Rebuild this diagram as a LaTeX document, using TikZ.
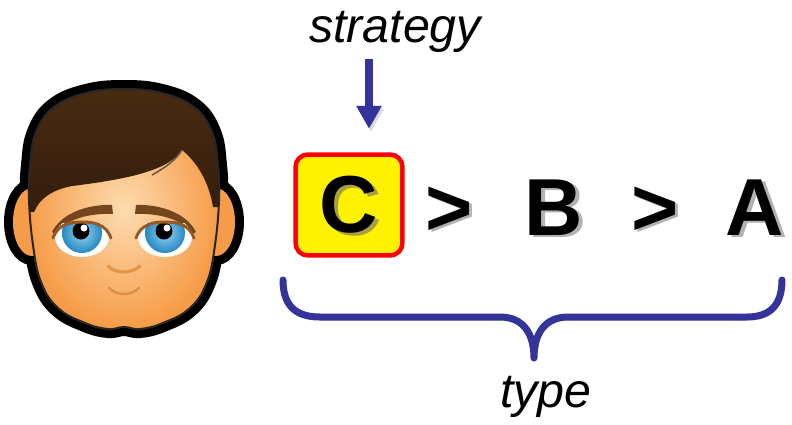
\documentclass[tikz,border=0pt]{standalone}
\usepackage{fontspec}
\setmainfont{Liberation Sans}
\usetikzlibrary{arrows.meta}
\definecolor{darkblue}{RGB}{51,51,153}
\definecolor{skin}{RGB}{246,156,72}
\definecolor{skinlight}{RGB}{253,220,176}
\definecolor{hair}{RGB}{52,29,11}
\definecolor{hairlight}{RGB}{74,43,18}
\definecolor{brow}{RGB}{116,70,30}
\definecolor{lid}{RGB}{150,88,36}
\definecolor{irisin}{RGB}{150,214,240}
\definecolor{irisout}{RGB}{38,136,196}
\colorlet{shd}{black!30}

% drop shadow behind a glyph
\newcommand{\shadowed}[1]{%
  \rlap{\smash{\kern1.9pt\raisebox{-1.5pt}{\color{shd}#1}}}#1}

\newcommand{\headshape}{plot[smooth cycle, tension=0.7] coordinates {
  (124,89) (162,93) (194,107) (212,132) (218,165) (219,200) (215,245)
  (207,282) (190,308) (163,323) (140,329) (124,327) (108,329) (85,323)
  (58,308) (41,282) (33,245) (29,200) (30,165) (36,132) (54,107) (86,93)}}

\begin{document}
\begin{tikzpicture}[x=0.02cm, y=-0.02cm,
    word/.style={font=\fontsize{27.5}{32}\selectfont\itshape, inner sep=0, anchor=base},
    letter/.style={font=\fontsize{46}{50}\selectfont\bfseries, inner sep=0, anchor=base},
    pick/.style={draw=red, fill=yellow, line width=0.09cm, rounded corners=0.25cm,
      minimum width=2.14cm, minimum height=2.02cm, inner sep=0,
      font=\fontsize{46}{50}\selectfont\bfseries},
    pointer/.style={draw=darkblue, line width=0.16cm, -{Triangle[length=0.46cm, width=0.48cm]}},
    brace/.style={draw=darkblue, line width=0.14cm, line cap=round, line join=round},
    outline/.style={draw=black, line width=0.36cm}]

  \useasboundingbox (0,0) rectangle (792,424);

  % head and ears
  \draw[outline] (32,222) ellipse[x radius=19, y radius=34]
                 (216,222) ellipse[x radius=19, y radius=34] \headshape;
  \fill[skin] (32,222) ellipse[x radius=19, y radius=34]
              (216,222) ellipse[x radius=19, y radius=34];
  \shade[inner color=skinlight, outer color=skin] \headshape;
  \begin{scope}
    \clip \headshape;
    \shade[top color=hairlight, bottom color=hair] (10,80) -- (240,80) -- (240,207) -- (213,207)
      .. controls (209,182) and (197,162) .. (182,150)
      .. controls (168,172) and (120,180) .. (72,186)
      .. controls (52,190) and (40,198) .. (34,212) -- (10,212) -- cycle;
  \end{scope}
  \draw[line width=0.04cm, black!85] \headshape;
  \draw[hairlight!80!white, line width=0.03cm] (152,175) .. controls (166,167) and (176,160) .. (182,150);

  % brows
  \fill[brow] (52,232) .. controls (62,212) and (90,204) .. (112,205)
    -- (113,214) .. controls (92,213) and (66,218) .. (56,234) -- cycle;
  \fill[brow] (196,232) .. controls (186,212) and (158,204) .. (136,205)
    -- (135,214) .. controls (156,213) and (182,218) .. (192,234) -- cycle;

  % eyes
  \begin{scope}
    \clip (50,223) rectangle (115,262);
    \fill[white] (82,237) ellipse[x radius=27, y radius=20];
    \shade[inner color=irisin, outer color=irisout] (82,233) circle[radius=20];
    \fill[white] (165,237) ellipse[x radius=27, y radius=20];
  \end{scope}
  \begin{scope}
    \clip (133,223) rectangle (198,262);
    \fill[white] (165,237) ellipse[x radius=27, y radius=20];
    \shade[inner color=irisin, outer color=irisout] (165,233) circle[radius=20];
  \end{scope}
  \fill[black] (81,231) circle[radius=8.5] (164,231) circle[radius=8.5];
  \fill[white] (84,228) circle[radius=3.5] (167,228) circle[radius=3.5];
  \draw[lid, line width=0.06cm, line cap=round] (53,238) .. controls (58,224) and (70,222) .. (82,222)
    .. controls (94,222) and (106,224) .. (111,238);
  \draw[lid, line width=0.06cm, line cap=round] (136,238) .. controls (141,224) and (153,222) .. (165,222)
    .. controls (177,222) and (189,224) .. (194,238);

  % nose and mouth
  \draw[skin!70!brown, line width=0.06cm, line cap=round] (108,266) .. controls (115,274) and (132,274) .. (140,266);
  \draw[skin!55!brown, line width=0.05cm, line cap=round] (109,288) .. controls (117,296) and (131,296) .. (139,288);

  % the ranking
  \node[pick] (c) at (349,205) {\colorlet{shd}{yellow!60!black}\shadowed{C}};
  \node[letter] (g1) at (449,235) {\shadowed{>}};
  \node[letter] (b)  at (554,235) {\shadowed{B}};
  \node[letter] (g2) at (655,235) {\shadowed{>}};
  \node[letter] (a)  at (755,235) {\shadowed{A}};

  \node[word] (s) at (395,42) {strategy};
  \coordinate (p) at (369,59);
  \draw[pointer, shorten >=0.47cm,
        preaction={draw=black!15, transform canvas={shift={(2,3)}}}] (p) -- (c.north -| p);

  \coordinate (bl) at (283,280);
  \coordinate (br) at (782,280);
  \coordinate (bt) at (534,358);
  \draw[brace, preaction={draw=black!12, transform canvas={shift={(2,3)}}}]
    (bl) .. controls (283,305) and (295,317) .. (320,317) -- (500,317)
    .. controls (522,317) and (534,332) .. (bt)
    .. controls (534,332) and (546,317) .. (568,317) -- (747,317)
    .. controls (770,317) and (782,305) .. (br);
  \node[word] (t) at (546,407) {type};
\end{tikzpicture}
\end{document}
